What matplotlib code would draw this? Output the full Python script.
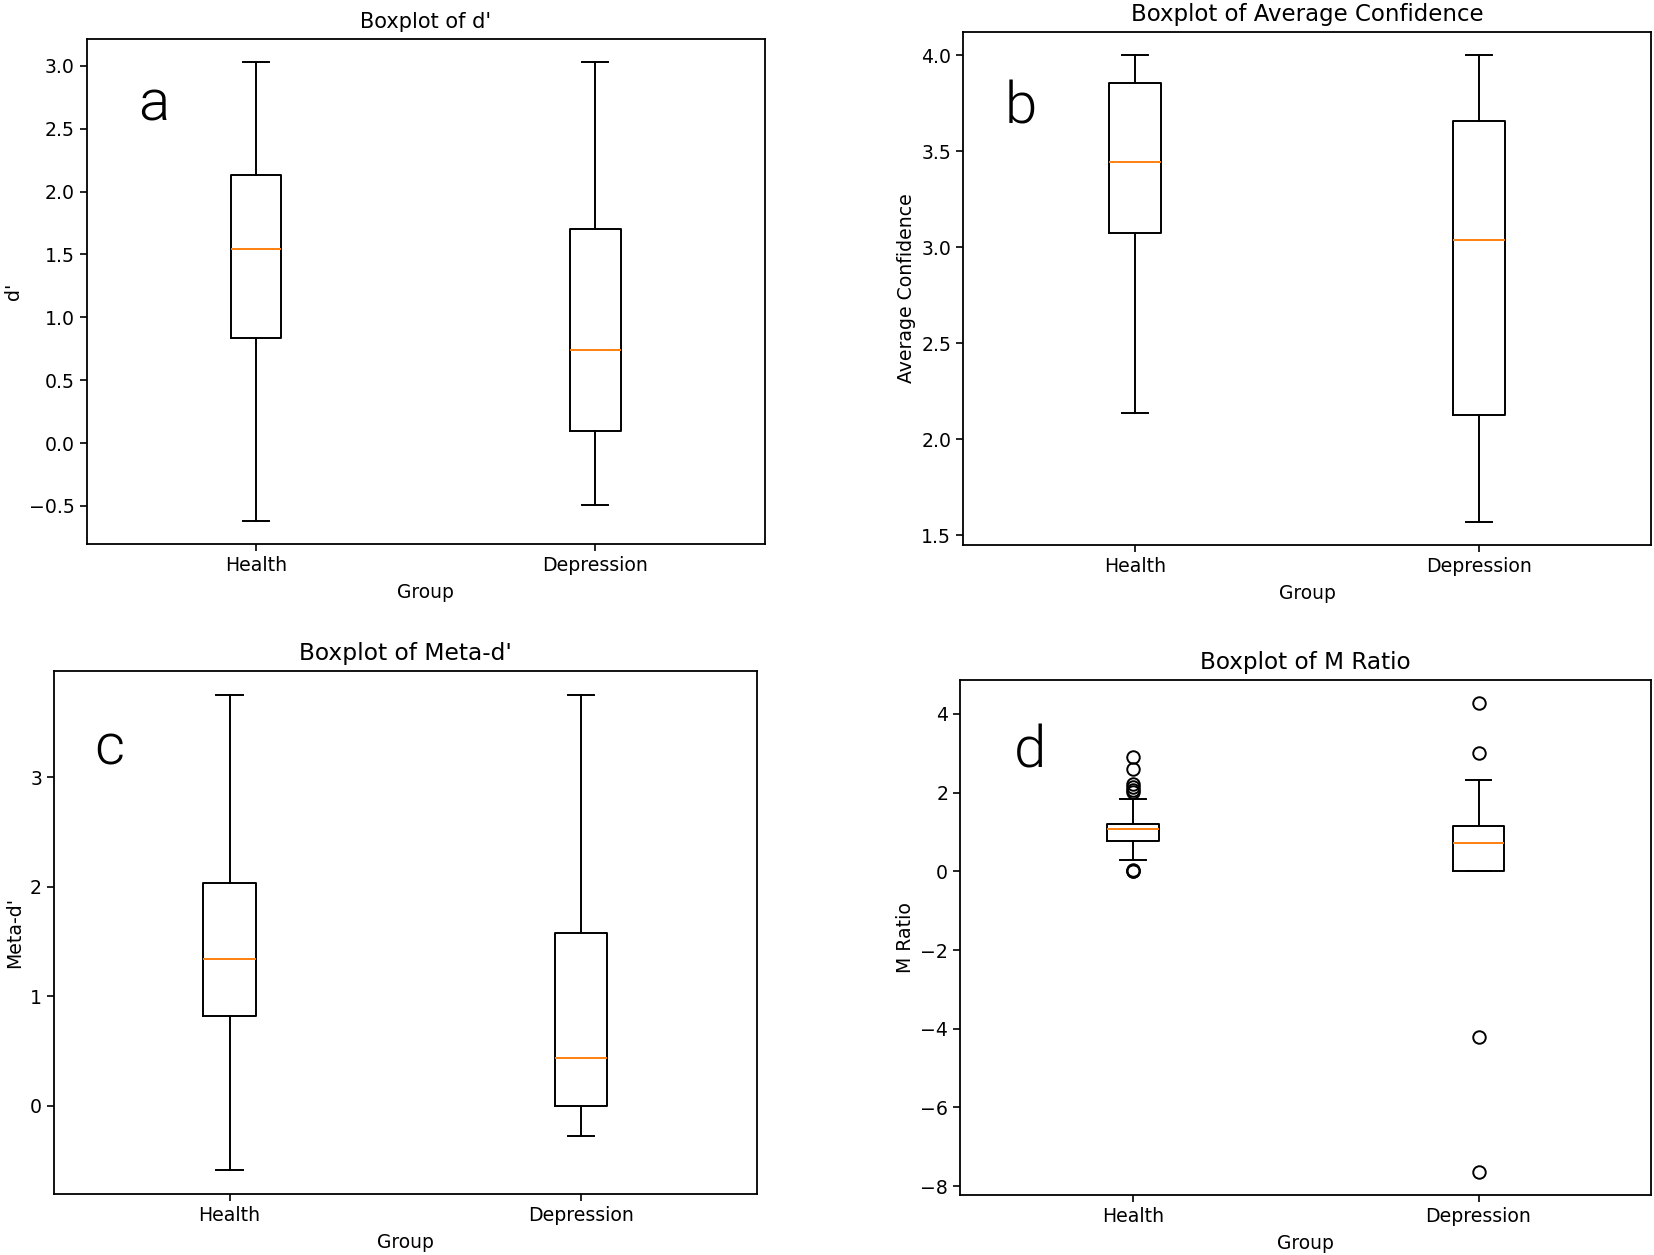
import matplotlib.pyplot as plt

plt.rcParams['font.family'] = ['DejaVu Sans']

groups = ['Health', 'Depression']

# d'
dp_whislo = [-0.62, -0.49]
dp_q1 = [0.834, 0.095]
dp_med = [1.547, 0.74]
dp_q3 = [2.135, 1.70]
dp_whishi = [3.03, 3.03]
dp_fliers = [[], []]

# Average Confidence
conf_whislo = [2.137, 1.571]
conf_q1 = [3.077, 2.126]
conf_med = [3.445, 3.04]
conf_q3 = [3.857, 3.66]
conf_whishi = [4.0, 4.0]
conf_fliers = [[], []]

# Meta-d'
meta_whislo = [-0.587, -0.279]
meta_q1 = [0.817, 0.0]
meta_med = [1.337, 0.433]
meta_q3 = [2.03, 1.577]
meta_whishi = [3.75, 3.75]
meta_fliers = [[], []]

# M Ratio
mr_whislo = [0.28, 0.0]
mr_q1 = [0.76, 0.0]
mr_med = [1.08, 0.73]
mr_q3 = [1.214, 1.16]
mr_whishi = [1.83, 2.31]
mr_fliers = [[2.9, 2.6, 2.22, 2.15, 2.08, 2.02, 0.0, 0.0, 0.03],
             [4.27, 3.01, -4.22, -7.63]]


def make_stats(whislo, q1, med, q3, whishi, fliers):
    stats = []
    for i, g in enumerate(groups):
        stats.append(dict(label=g, whislo=whislo[i], q1=q1[i], med=med[i],
                          q3=q3[i], whishi=whishi[i], fliers=fliers[i]))
    return stats


fig = plt.figure(figsize=(16.54, 12.55), dpi=100)

# rect, y name, stats, panel letter, letter position, title size
panels = [
    ([0.0523, 0.5665, 0.410, 0.4024], "d'",
     make_stats(dp_whislo, dp_q1, dp_med, dp_q3, dp_whishi, dp_fliers),
     'a', (0.093, 0.916), 15),
    ([0.5822, 0.5657, 0.416, 0.4088], 'Average Confidence',
     make_stats(conf_whislo, conf_q1, conf_med, conf_q3, conf_whishi, conf_fliers),
     'b', (0.617, 0.914), 16.5),
    ([0.0326, 0.0486, 0.425, 0.4167], "Meta-d'",
     make_stats(meta_whislo, meta_q1, meta_med, meta_q3, meta_whishi, meta_fliers),
     'c', (0.066, 0.403), 16.8),
    ([0.5804, 0.0478, 0.418, 0.4104], 'M Ratio',
     make_stats(mr_whislo, mr_q1, mr_med, mr_q3, mr_whishi, mr_fliers),
     'd', (0.623, 0.401), 16.7),
]

lw = 1.4
for rect, name, stats, letter, lpos, tsize in panels:
    ax = fig.add_axes(rect)
    ax.bxp(stats,
           boxprops=dict(color='black', linewidth=lw),
           whiskerprops=dict(color='black', linewidth=lw),
           capprops=dict(color='black', linewidth=lw),
           medianprops=dict(color='#ff7f0e', linewidth=lw),
           flierprops=dict(marker='o', markerfacecolor='none',
                           markeredgecolor='black', markersize=9,
                           markeredgewidth=lw))
    ax.set_title(f'Boxplot of {name}', fontsize=tsize, pad=8)
    ax.set_xlabel('Group', fontsize=13.4, labelpad=6)
    ax.set_ylabel(name, fontsize=13.6)
    ax.tick_params(labelsize=13.6, width=1.2, length=5)
    for s in ax.spines.values():
        s.set_linewidth(1.3)
    fig.text(lpos[0], lpos[1], letter, fontsize=42, ha='center', va='center',
             family=['Roboto', 'DejaVu Sans'], fontweight=300)

fig.savefig('out.png', dpi=100)
